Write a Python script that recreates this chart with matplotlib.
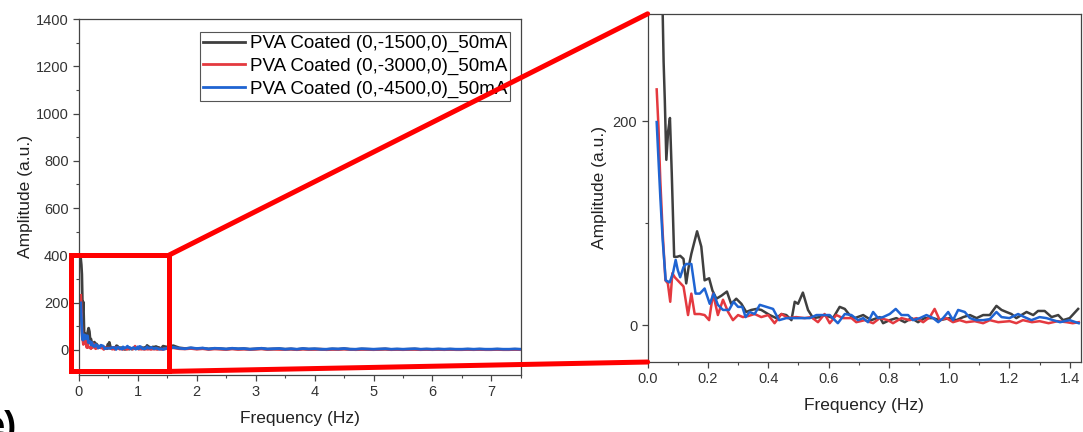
import numpy as np
import matplotlib
matplotlib.use("Agg")
import matplotlib.pyplot as plt
from matplotlib.patches import Rectangle, ConnectionPatch

plt.rcParams["font.family"] = ["Liberation Sans", "DejaVu Sans"]

labels = ["PVA Coated (0,-1500,0)_50mA",
          "PVA Coated (0,-3000,0)_50mA",
          "PVA Coated (0,-4500,0)_50mA"]
colors = ["#3f3f3f", "#e4393f", "#1f64d2"]

# low-frequency part
f_black = [0.030, 0.040, 0.049, 0.053, 0.057, 0.062, 0.068, 0.074, 0.080, 0.088,
           0.097, 0.108, 0.119, 0.128, 0.136, 0.145, 0.164, 0.178, 0.189, 0.204,
           0.215, 0.228, 0.245, 0.263, 0.277, 0.294, 0.311, 0.327, 0.344, 0.361,
           0.377, 0.405, 0.427, 0.444, 0.460, 0.477, 0.488, 0.499, 0.515, 0.532,
           0.549, 0.571, 0.587, 0.615, 0.637, 0.654, 0.670, 0.687, 0.715, 0.742,
           0.770, 0.781, 0.803, 0.825, 0.853, 0.875, 0.897, 0.919, 0.947, 0.969,
           1.002, 1.024, 1.047, 1.069, 1.091, 1.113, 1.135, 1.157, 1.174, 1.190,
           1.207, 1.223, 1.257, 1.279, 1.295, 1.317, 1.340, 1.362, 1.378, 1.400,
           1.428]
a_black = [385, 360, 320, 258, 220, 162, 190, 203, 149, 67,
           67, 68, 65, 41, 57, 70, 92, 77, 44, 46,
           34, 26, 29, 33, 21, 26, 21, 13, 15, 16,
           15, 10, 7, 11, 10, 5, 23, 21, 32, 15,
           7, 8, 10, 7, 18, 16, 10, 7, 10, 5,
           8, 2, 5, 7, 3, 7, 3, 7, 7, 5,
           7, 5, 8, 10, 7, 10, 10, 19, 15, 13,
           11, 7, 13, 10, 14, 14, 8, 10, 5, 7,
           16]

f_red = [0.030, 0.036, 0.042, 0.050, 0.059, 0.067, 0.075, 0.082, 0.090, 0.106,
         0.119, 0.134, 0.145, 0.156, 0.173, 0.189, 0.204, 0.217, 0.233, 0.250,
         0.267, 0.283, 0.300, 0.316, 0.333, 0.355, 0.377, 0.400, 0.421, 0.444,
         0.466, 0.493, 0.521, 0.543, 0.565, 0.587, 0.604, 0.626, 0.648, 0.676,
         0.692, 0.720, 0.748, 0.770, 0.797, 0.814, 0.842, 0.869, 0.892, 0.914,
         0.936, 0.952, 0.969, 0.991, 1.013, 1.035, 1.057, 1.085, 1.113, 1.135,
         1.163, 1.201, 1.223, 1.245, 1.275, 1.300, 1.330, 1.360, 1.390, 1.410,
         1.430]
a_red = [231, 194, 142, 90, 44, 41, 23, 51, 47, 42,
         38, 10, 31, 11, 11, 10, 5, 31, 10, 25,
         13, 5, 10, 8, 9, 11, 8, 10, 2, 11,
         7, 8, 7, 8, 3, 11, 2, 10, 7, 7,
         3, 5, 2, 7, 5, 2, 7, 5, 7, 3,
         8, 16, 5, 7, 3, 5, 3, 4, 2, 5,
         3, 4, 2, 5, 3, 4, 2, 4, 3, 2,
         3]

f_blue = [0.030, 0.036, 0.042, 0.050, 0.060, 0.073, 0.084, 0.093, 0.100, 0.108,
          0.119, 0.128, 0.145, 0.159, 0.173, 0.189, 0.206, 0.219, 0.233, 0.250,
          0.270, 0.285, 0.300, 0.314, 0.325, 0.338, 0.355, 0.372, 0.394, 0.416,
          0.436, 0.460, 0.482, 0.510, 0.538, 0.560, 0.582, 0.604, 0.631, 0.654,
          0.676, 0.698, 0.715, 0.731, 0.748, 0.764, 0.781, 0.803, 0.823, 0.842,
          0.864, 0.880, 0.903, 0.925, 0.947, 0.964, 0.980, 0.997, 1.013, 1.030,
          1.052, 1.069, 1.090, 1.113, 1.135, 1.157, 1.174, 1.200, 1.229, 1.250,
          1.273, 1.300, 1.323, 1.345, 1.368, 1.400, 1.430]
a_blue = [199, 162, 126, 83, 44, 42, 51, 64, 54, 47,
          57, 60, 60, 31, 31, 36, 21, 31, 20, 15,
          15, 23, 18, 18, 8, 13, 11, 20, 18, 16,
          5, 7, 7, 7, 7, 10, 10, 10, 2, 11,
          10, 5, 7, 3, 13, 7, 8, 11, 16, 10,
          10, 5, 7, 10, 7, 3, 7, 13, 5, 15,
          13, 7, 5, 5, 6, 13, 8, 7, 11, 8,
          5, 8, 7, 5, 3, 5, 2]

# high-frequency tail, one value every 0.1 Hz from 1.5 Hz
tail_start, tail_step = 1.5, 0.1
tail_black = [12, 18, 9, 6, 8, 5, 7, 4, 6, 5,
              3, 6, 4, 5, 3, 4, 6, 3, 4, 5,
              3, 4, 2, 5, 3, 4, 3, 2, 4, 3,
              5, 3, 2, 4, 3, 2, 3, 4, 2, 3,
              2, 3, 4, 2, 3, 2, 3, 2, 3, 2,
              2, 3, 2, 3, 2, 2, 3, 2, 2, 3,
              2]
tail_red = [6, 9, 5, 4, 6, 3, 5, 2, 4, 3,
            2, 4, 2, 3, 2, 3, 4, 2, 3, 2,
            2, 3, 1, 3, 2, 2, 3, 1, 2, 2,
            3, 2, 1, 2, 2, 1, 2, 3, 1, 2,
            1, 2, 2, 1, 2, 1, 2, 1, 2, 1,
            1, 2, 1, 2, 1, 1, 2, 1, 1, 2,
            1]
tail_blue = [8, 11, 7, 5, 9, 6, 8, 4, 7, 6,
             4, 7, 5, 6, 3, 5, 7, 4, 5, 6,
             3, 5, 3, 6, 4, 5, 3, 3, 5, 4,
             6, 3, 3, 5, 4, 3, 4, 5, 3, 4,
             3, 4, 5, 3, 4, 3, 4, 3, 4, 3,
             3, 4, 3, 4, 3, 3, 4, 3, 3, 4,
             3]

series = [(f_black, a_black, tail_black),
          (f_red, a_red, tail_red),
          (f_blue, a_blue, tail_blue)]

fig = plt.figure(figsize=(10.83, 4.32), dpi=100)
ax1 = fig.add_axes([0.0729, 0.132, 0.408, 0.824])
ax2 = fig.add_axes([0.598, 0.162, 0.400, 0.806])

for (f, a, tail), c, lab in zip(series, colors, labels):
    tf = tail_start + tail_step * np.arange(len(tail))
    x = np.concatenate([f, tf])
    y = np.concatenate([a, tail])
    ax1.plot(x, y, color=c, lw=2.0, label=lab)
    ax2.plot(f, a, color=c, lw=1.8)

ax1.set_xlim(0, 7.5)
ax1.set_ylim(-106, 1400)
ax1.set_xticks(range(0, 8))
ax1.set_xticks(np.arange(0, 7.6, 0.5), minor=True)
ax1.set_yticks(range(0, 1401, 200))
ax1.set_yticks(range(0, 1401, 100), minor=True)

ax2.set_xlim(0, 1.437)
ax2.set_ylim(-36, 305)
ax2.set_xticks(np.arange(0, 1.41, 0.2))
ax2.set_xticklabels([f"{v:.1f}" for v in np.arange(0, 1.41, 0.2)])
ax2.set_xticks(np.arange(0, 1.45, 0.1), minor=True)
ax2.set_yticks([0, 200])
ax2.set_yticks([0, 100, 200], minor=True)

for ax in (ax1, ax2):
    for s in ax.spines.values():
        s.set_color("#444444")
        s.set_linewidth(0.9)
    ax.tick_params(which="major", direction="out", length=4, width=0.9,
                   color="#444444", labelsize=10.5, labelcolor="#333333")
    ax.tick_params(which="minor", direction="out", length=2.5, width=0.8,
                   color="#444444")
    ax.set_xlabel("Frequency (Hz)", fontsize=12.5, color="#222222", labelpad=8)
    ax.set_ylabel("Amplitude (a.u.)", fontsize=12.5, color="#222222")

ax1.yaxis.labelpad = 2
ax2.yaxis.labelpad = 4

leg = ax1.legend(loc="upper right", bbox_to_anchor=(0.975, 0.963), fontsize=13.5,
                 frameon=True, fancybox=False, edgecolor="#555555", framealpha=1,
                 handlelength=2.2, handletextpad=0.27, labelspacing=0.3,
                 borderpad=0.15, borderaxespad=0)
leg.get_frame().set_linewidth(0.8)

# zoom box and connecting lines
box = Rectangle((-0.14, -91), 1.66, 491, fill=False, ec="red", lw=3.6,
                clip_on=False, zorder=6)
ax1.add_patch(box)
for ya, yb in [(400, 1), (-91, 0)]:
    con = ConnectionPatch(xyA=(1.52, ya), coordsA=ax1.transData,
                          xyB=(0, yb), coordsB=ax2.transAxes,
                          color="red", lw=3.6, zorder=6)
    fig.add_artist(con)

# panel letter, partly cut off at the lower-left corner as in the source
fig.text(0.0157, -0.012, "e)", fontsize=26, fontweight="bold",
         ha="right", va="baseline")

fig.savefig("out.png", dpi=100)
